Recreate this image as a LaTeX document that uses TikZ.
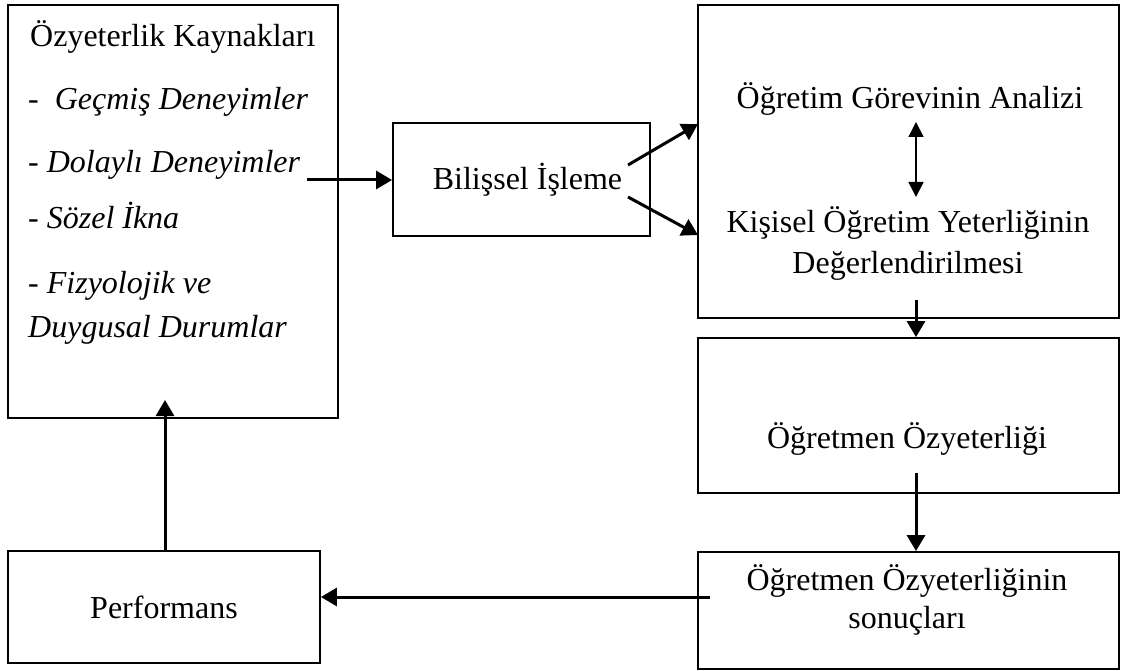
\documentclass[tikz,border=0pt]{standalone}
\usepackage{fontspec}
\setmainfont{Liberation Serif}
\usetikzlibrary{arrows.meta,positioning,calc}

\begin{document}
\begin{tikzpicture}[x=1pt, y=-1pt,
        kutu/.style={rectangle, draw=black, line width=1.8pt, inner sep=0pt},
        yazi/.style={inner sep=0pt, font=\fontsize{32}{38}\selectfont},
        ok/.style={line width=3pt, -{Triangle[length=16pt 0,width=18pt 0]}},
        ciftok/.style={line width=1.6pt, {Triangle[length=15pt 0,width=15pt 0]}-{Triangle[length=15pt 0,width=15pt 0]}}]
        \useasboundingbox (0,0) rectangle (1121,671);

        % kutular
        \node (kaynak) [kutu, minimum width=330pt, minimum height=413pt] at (173,211.5) {};
        \node (bilissel) [kutu, yazi, minimum width=257pt, minimum height=113pt] at (521.5,179.5) {\hspace*{12pt}Bilişsel İşleme};
        \node (analiz) [kutu, minimum width=421pt, minimum height=313pt] at (908.5,161.5) {};
        \node (ozyet) [kutu, minimum width=421pt, minimum height=155pt] at (908.5,415.5) {};
        \node (sonuc) [kutu, minimum width=421pt, minimum height=117pt] at (908.5,610.5) {};
        \node (perf) [kutu, minimum width=312pt, minimum height=112pt] at (164,607) {};

        % yazilar
        \node (baslik) [yazi, anchor=base west] at (30,47) {Özyeterlik Kaynakları};
        \node (gecmis) [yazi, anchor=base west] at (28,110) {-\ \ \textit{Geçmiş Deneyimler}};
        \node (dolayli) [yazi, anchor=base west] at (28,173) {- \textit{Dolaylı Deneyimler}};
        \node (sozel) [yazi, anchor=base west] at (28,229) {- \textit{Sözel İkna}};
        \node (fizyo) [yazi, anchor=base west] at (28,293) {- \textit{Fizyolojik ve}};
        \node (duygu) [yazi, anchor=base west] at (28,337) {\textit{Duygusal Durumlar}};

        \node (gorev) [yazi, anchor=base] at (910,109) {Öğretim Görevinin Analizi};
        \node (kisisel) [yazi, anchor=base] at (908,233) {Kişisel Öğretim Yeterliğinin};
        \node (degerl) [yazi, anchor=base] at (908,273) {Değerlendirilmesi};
        \node (ogrozy) [yazi, anchor=base] at (907,448) {Öğretmen Özyeterliği};
        \node (sonuc1) [yazi, anchor=base] at (907,590) {Öğretmen Özyeterliğinin};
        \node (sonuc2) [yazi, anchor=base] at (907,628) {sonuçları};
        \node (perfyazi) [yazi, anchor=base] at (164,618) {Performans};

        % baglanti noktalari
        \coordinate (d1) at (307,180);
        \coordinate (b1) at (628,165);
        \coordinate (b2) at (628,197);
        \coordinate (a1) at (698,124);
        \coordinate (a2) at (698,235);
        \coordinate (g1) at (916,122);
        \coordinate (g2) at (916,197);
        \coordinate (a3) at (916,300);
        \coordinate (o1) at (916,473);
        \coordinate (s1) at (710,597);
        \coordinate (p1) at (165,400);

        \draw[ok] (d1) -- (bilissel.west |- d1);
        \draw[ok] (b1) -- (a1);
        \draw[ok] (b2) -- (a2);
        \draw[ciftok] (g1) -- (g2);
        \draw[ok] (a3) -- (a3 |- ozyet.north);
        \draw[ok] (o1) -- (o1 |- sonuc.north);
        \draw[ok] (s1) -- (perf.east |- s1);
        \draw[ok] (p1 |- perf.north) -- (p1);
\end{tikzpicture}
\end{document}
